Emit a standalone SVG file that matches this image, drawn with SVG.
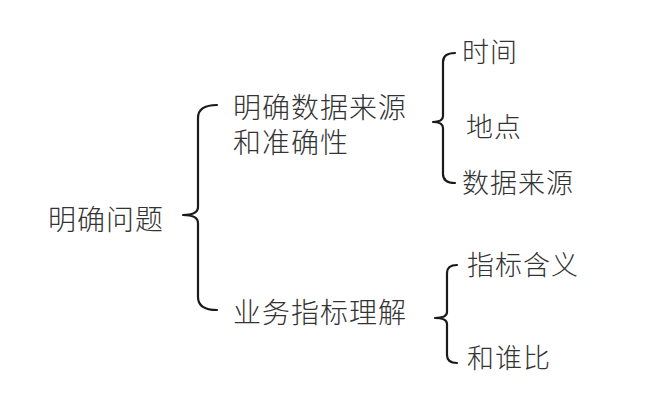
<svg xmlns="http://www.w3.org/2000/svg" width="660" height="406" viewBox="0 0 660 406">
<style>
text{font-family:"Noto Sans CJK SC","Noto Sans CJK JP",sans-serif;fill:#333;font-size:28px;letter-spacing:1px;font-weight:300}
.s{font-size:27px}
.br{fill:none;stroke:#1a1a1a;stroke-width:2.2;stroke-linecap:round;stroke-linejoin:round}
</style>
<rect width="660" height="406" fill="#fff"/>
<g id="connectors">
<path class="br" d="M217,105 Q198,105 198,118 L198,207 Q198,215 183,215 Q198,215 198,223 L198,297 Q198,310 217,310"/>
<path class="br" d="M455,53 Q443,53 443,62 L443,116 Q443,122 433,122 Q443,122 443,128 L443,174 Q443,183 455,183"/>
<path class="br" d="M457,265 Q447,265 447,273 L447,312 Q447,318 435,318 Q447,318 447,324 L447,355 Q447,363 457,363"/>
</g>
<g id="root"><text x="48" y="230">明确问题</text></g>
<g id="n1"><text x="233" y="118">明确数据来源<tspan x="233" dy="35">和准确性</tspan></text></g>
<g id="n2"><text x="233" y="323">业务指标理解</text></g>
<g id="n11"><text class="s" x="462" y="62">时间</text></g>
<g id="n12"><text class="s" x="466" y="137">地点</text></g>
<g id="n13"><text class="s" x="462" y="193">数据来源</text></g>
<g id="n21"><text class="s" x="467" y="275">指标含义</text></g>
<g id="n22"><text class="s" x="467" y="368">和谁比</text></g>
</svg>
